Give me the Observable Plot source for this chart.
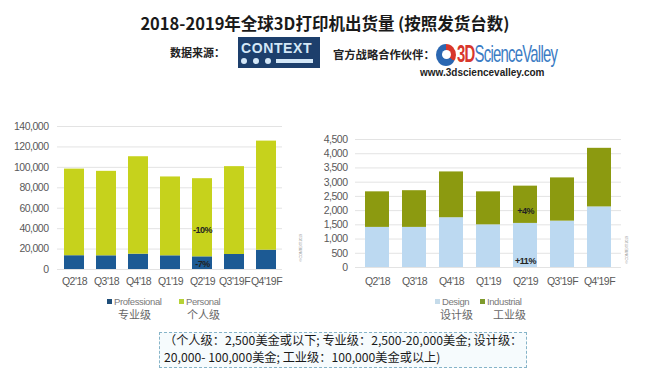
<!DOCTYPE html>
<html><head><meta charset="utf-8">
<script src="https://cdn.jsdelivr.net/npm/d3@7"></script>
<script src="https://cdn.jsdelivr.net/npm/@observablehq/plot@0.6"></script>
<style>
body{margin:0;background:#fff;}
#page{position:relative;width:650px;height:375px;overflow:hidden;font-family:"Noto Sans CJK SC","Noto Sans",sans-serif;background:#fff;}
.abs{position:absolute;white-space:nowrap;line-height:1;}
.narrow{font-family:"Liberation Sans",Arial,sans-serif;letter-spacing:-0.4px;}
.sw{display:inline-block;width:5px;height:5px;margin-right:2px;vertical-align:1px;}
.leg{font-size:9.5px;color:#7a7a7a;}
.legc{font-size:11px;color:#666;}
.copy{font-size:4px;color:#999;transform:rotate(-90deg);transform-origin:center;}
</style></head><body><div id="page">
<div class="abs" id="title" style="left:0;width:650px;text-align:center;top:15px;font-size:16.5px;font-weight:bold;color:#1a1a1a;">2018-2019年全球3D打印机出货量 (按照发货台数)</div>
<div class="abs" style="left:170px;top:47px;font-size:11px;font-weight:bold;color:#222;">数据来源：</div>
<div class="abs" style="left:238px;top:37px;width:82px;height:31px;background:#1d3f6c;">
  <div class="abs" style="left:3px;top:4px;font-family:'Liberation Sans',sans-serif;font-weight:bold;font-size:14px;letter-spacing:0.6px;color:#d4e7f7;">CONTEXT</div>
  <div class="abs" style="left:3px;top:21px;width:6px;height:6px;border-radius:3px;background:#d4e7f7;"></div>
  <div class="abs" style="left:15px;top:21px;width:6px;height:6px;border-radius:3px;background:#d4e7f7;"></div>
  <div class="abs" style="left:27px;top:21px;width:6px;height:6px;border-radius:3px;background:#d4e7f7;"></div>
  <div class="abs" style="left:38px;top:22px;width:37px;height:4px;background:#d4e7f7;"></div>
</div>
<div class="abs" style="left:333px;top:49px;font-size:11.3px;font-weight:bold;color:#222;">官方战略合作伙伴：</div>
<div class="abs" style="left:436px;top:44px;width:20px;height:22px;border-radius:50%;background:conic-gradient(#d8372c 0 35%,#2b67b1 35% 100%);"></div>
<div class="abs" style="left:442px;top:50px;width:9px;height:9px;border-radius:50%;background:#fff;"></div>
<div class="abs" style="left:457px;top:42px;font-family:'Liberation Sans',sans-serif;font-size:24px;letter-spacing:-1.2px;transform:scaleX(0.62);transform-origin:left top;"><span style="color:#d8372c;font-weight:bold;">3D</span><span style="color:#3b7cc4;">ScienceValley</span></div>
<div class="abs" style="left:420px;top:68px;font-family:'Liberation Sans',sans-serif;font-size:10px;font-weight:bold;color:#222;">www.3dsciencevalley.com</div>

<div id="left" class="abs" style="left:0;top:110px;"></div>
<div id="right" class="abs" style="left:300px;top:110px;"></div>

<div class="abs copy narrow" style="left:287px;top:246px;">© CONTEXT 2019</div>
<div class="abs copy narrow" style="left:613px;top:248px;">© CONTEXT 2019</div>

<div class="abs narrow leg" style="left:107px;top:297px;"><span class="sw" style="background:#1f4e79"></span>Professional</div>
<div class="abs legc" style="left:118px;top:309px;">专业级</div>
<div class="abs narrow leg" style="left:179px;top:297px;"><span class="sw" style="background:#b6d236"></span>Personal</div>
<div class="abs legc" style="left:187px;top:309px;">个人级</div>
<div class="abs narrow leg" style="left:435px;top:297px;"><span class="sw" style="background:#c5dbea"></span>Design</div>
<div class="abs legc" style="left:440px;top:309px;">设计级</div>
<div class="abs narrow leg" style="left:480px;top:297px;"><span class="sw" style="background:#7e9a2c"></span>Industrial</div>
<div class="abs legc" style="left:493px;top:309px;">工业级</div>

<div class="abs" style="left:159px;top:332px;width:366px;height:34px;border:1px dashed #86b4c8;background:#f6fbfd;"></div>
<div class="abs" style="left:164px;top:334px;font-size:12.2px;color:#1a1a1a;">（个人级：2,500美金或以下; 专业级：2,500-20,000美金; 设计级：</div>
<div class="abs" style="left:164px;top:351px;font-size:12.2px;color:#1a1a1a;">20,000- 100,000美金; 工业级：100,000美金或以上)</div>
</div>
<script>
const quarters = ["Q2'18","Q3'18","Q4'18","Q1'19","Q2'19","Q3'19F","Q4'19F"];
const professional = [13500, 13400, 15000, 13400, 12400, 14700, 18900];
const personal = [84800, 82700, 95400, 77200, 76500, 86000, 106800];
const design = [1410, 1410, 1750, 1500, 1550, 1630, 2130];
const industrial = [1250, 1290, 1610, 1160, 1310, 1520, 2060];
const leftTicks = [0, 20000, 40000, 60000, 80000, 100000, 120000, 140000];
const rightTicks = [0, 500, 1000, 1500, 2000, 2500, 3000, 3500, 4000, 4500];
const leftNotes = [{quarter:"Q2'19", value:39000, label:"-10%"}, {quarter:"Q2'19", value:5000, label:"-7%"}];
const rightNotes = [{quarter:"Q2'19", value:1970, label:"+4%"}, {quarter:"Q2'19", value:210, label:"+11%"}];

const leftData = quarters.flatMap((q,i)=>[
  {quarter:q, type:"Professional", value:professional[i]},
  {quarter:q, type:"Personal", value:personal[i]}]);
const rightData = quarters.flatMap((q,i)=>[
  {quarter:q, type:"Design", value:design[i]},
  {quarter:q, type:"Industrial", value:industrial[i]}]);

const axisStyle = {fontFamily:'"Liberation Sans",Arial,sans-serif', fontSize:"10.5px", letterSpacing:"-0.5px", color:"#595959", background:"transparent", overflow:"visible"};
const fmt = d3.format(",");

const left = Plot.plot({
  width:300, height:185, marginLeft:57, marginRight:18, marginTop:16, marginBottom:26,
  style: axisStyle,
  x:{domain:quarters, paddingInner:0.38, paddingOuter:0.19, label:null},
  y:{domain:[0,140000], label:null},
  color:{domain:["Professional","Personal"], range:["#1c5a94","#c6d21c"]},
  marks:[
    Plot.gridY(leftTicks, {stroke:"#e3e3e3", strokeOpacity:1}),
    Plot.axisY(leftTicks, {tickSize:0, tickPadding:9, tickFormat:fmt, label:null}),
    Plot.axisX({tickSize:0, tickPadding:8, label:null}),
    Plot.barY(leftData, {x:"quarter", y:"value", fill:"type"}),
    Plot.text(leftNotes, {x:"quarter", y:"value", text:"label", fontWeight:"bold", fontSize:9, fill:"#222"})
  ]
});
document.getElementById("left").appendChild(left);

const right = Plot.plot({
  width:350, height:185, marginLeft:55, marginRight:29, marginTop:29, marginBottom:28,
  style: axisStyle,
  x:{domain:quarters, paddingInner:0.36, paddingOuter:0.21, label:null},
  y:{domain:[0,4500], label:null},
  color:{domain:["Design","Industrial"], range:["#bcd9f1","#8c9a10"]},
  marks:[
    Plot.gridY(rightTicks, {stroke:"#e3e3e3", strokeOpacity:1}),
    Plot.axisY(rightTicks, {tickSize:0, tickPadding:8, tickFormat:fmt, label:null}),
    Plot.axisX({tickSize:0, tickPadding:10, label:null}),
    Plot.barY(rightData, {x:"quarter", y:"value", fill:"type"}),
    Plot.text(rightNotes, {x:"quarter", y:"value", text:"label", fontWeight:"bold", fontSize:9, fill:"#222"})
  ]
});
document.getElementById("right").appendChild(right);
</script>
</body></html>
